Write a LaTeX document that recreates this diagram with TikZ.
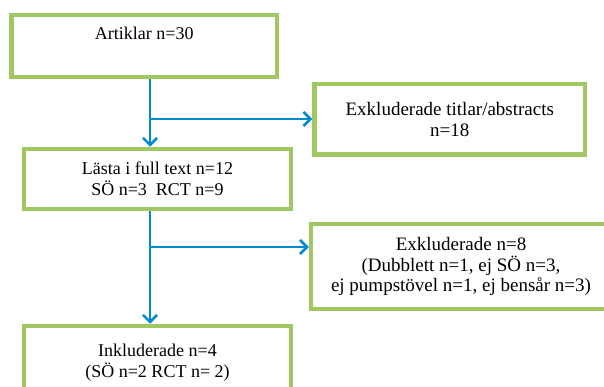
\documentclass[tikz,border=0pt]{standalone}
\usepackage{fontspec}
\setmainfont{Liberation Serif}
\usetikzlibrary{arrows.meta}
\definecolor{boxgreen}{RGB}{160,199,98}
\definecolor{arrowblue}{RGB}{0,138,207}
\begin{document}
\begin{tikzpicture}[x=1pt,y=-1pt,
  flowbox/.style={draw=boxgreen,line width=4.5pt,rectangle,inner sep=0pt,align=center,
    font=\fontsize{18}{20.7}\selectfont},
  widebox/.style={flowbox,font=\fontsize{19}{20.9}\selectfont},
  flowarrow/.style={draw=arrowblue,line width=2.6pt,-{Straight Barb[length=7pt,width=14pt,line width=2.6pt]}}]
\useasboundingbox (0,0) rectangle (604,387);
\begin{scope}
\clip (0,0) rectangle (604,387);
\node[flowbox,minimum width=265.7pt,minimum height=62pt] (b1) at (144.2,46) {Artiklar n=30\\[-2pt]\strut};
\node[widebox,minimum width=270.5pt,minimum height=70.5pt] (b3) at (449.8,119.3) {Exkluderade titlar/abstracts\\n=18};
\node[flowbox,minimum width=267pt,minimum height=60pt] (b2) at (157.5,179) {Lästa i full text n=12\\SÖ n=3~~RCT n=9};
\node[widebox,minimum width=300pt,minimum height=85pt] (b4) at (461,266.5) {Exkluderade n=8\\(Dubblett n=1, ej SÖ n=3,\\ej pumpstövel n=1, ej bensår n=3)};
\node[flowbox,minimum width=267pt,minimum height=74pt] (b5) at (157.5,363) {Inkluderade n=4\\(SÖ n=2 RCT n= 2)};
\coordinate (j1) at (150,119);
\coordinate (j2) at (150,247);
\draw[flowarrow] (b1.south -| j1) -- (b2.north -| j1);
\draw[flowarrow] (j1) -- (j1 -| b3.west);
\draw[flowarrow] (b2.south -| j2) -- (b5.north -| j2);
\draw[flowarrow] (j2) -- (j2 -| b4.west);
\end{scope}
\end{tikzpicture}
\end{document}
